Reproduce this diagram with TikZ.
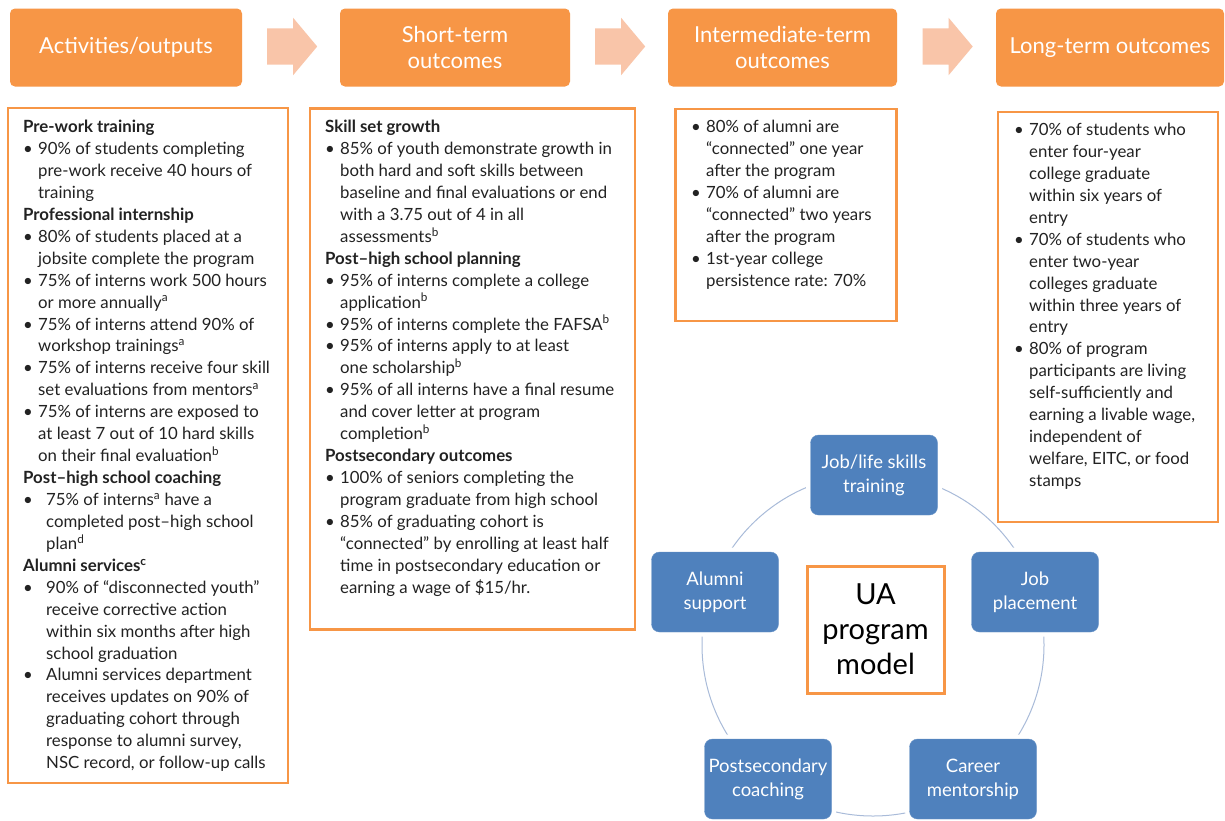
\documentclass[tikz,border=0pt]{standalone}
\usepackage{fontspec}
\setmainfont{Lato}
\usetikzlibrary{shapes.arrows}
\definecolor{hdor}{HTML}{F79646}
\definecolor{arrpeach}{HTML}{F9C5A9}
\definecolor{cycblue}{HTML}{4F81BD}
\definecolor{arcgray}{HTML}{A9BBD9}
\definecolor{txt}{HTML}{222222}
\newcommand{\HdL}[1]{\textbf{#1}}
\newcommand{\BuL}[2][15pt]{\makebox[#1][l]{•}#2}
\newcommand{\CoL}[2][15pt]{\hspace*{#1}#2}
\newcommand{\Sup}[1]{\textsuperscript{#1}}
\tikzset{
  hdbox/.style={rectangle, rounded corners=5pt, fill=hdor, text=white, inner sep=0pt,
    minimum height=78pt, align=center, font=\fontsize{22}{26}\selectfont},
  flowarrow/.style={single arrow, fill=arrpeach, draw=none, inner xsep=0pt, inner ysep=18pt,
    minimum height=50pt, single arrow head extend=10.5pt,
    single arrow tip angle=100, shape border rotate=0, anchor=tail},
  txtbox/.style={rectangle, draw=hdor, line width=2.6pt, fill=white, inner sep=0pt},
  bodytxt/.style={anchor=north west, inner sep=0pt, align=left, text=txt,
    font=\fontsize{16.8}{21.93}\selectfont},
  cyc/.style={rectangle, rounded corners=8pt, fill=cycblue, draw=cycblue!85!white,
    preaction={draw=white, line width=9pt}, text=white, align=center, inner sep=0pt,
    minimum width=127pt, minimum height=80pt, font=\fontsize{18.5}{24}\selectfont},
}
\begin{document}
\begin{tikzpicture}[x=1pt,y=-1pt]
\useasboundingbox[fill=white] (0,0) rectangle (1225,820);

% header row
\node[hdbox, minimum width=232pt] (h1) at (126,47.5) {Activities/outputs};
\node[hdbox, minimum width=230pt] (h2) at (455,47.5) {Short-term\\outcomes};
\node[hdbox, minimum width=229pt] (h3) at (782.5,47.5) {Intermediate-term\\outcomes};
\node[hdbox, minimum width=228pt] (h4) at (1110,47.5) {Long-term outcomes};
\node[flowarrow] (a1) at (267,46.5) {};
\node[flowarrow] (a2) at (595,46.5) {};
\node[flowarrow] (a3) at (922.5,46.5) {};

% text boxes
\node[txtbox, minimum width=280pt, minimum height=675pt] (b1) at (148,445.5) {};
\node[txtbox, minimum width=325pt, minimum height=521pt] (b2) at (472.5,369) {};
\node[txtbox, minimum width=221pt, minimum height=212pt] (b3) at (786,215) {};
\node[txtbox, minimum width=220pt, minimum height=410pt] (b4) at (1108,317) {};

\node[bodytxt] (t1) at (23,120) {%
\HdL{Pre-work training}\\
\BuL{90\% of students completing}\\
\CoL{pre-work receive 40 hours of}\\
\CoL{training}\\
\HdL{Professional internship}\\
\BuL{80\% of students placed at a}\\
\CoL{jobsite complete the program}\\
\BuL{75\% of interns work 500 hours}\\
\CoL{or more annually\Sup{a}}\\
\BuL{75\% of interns attend 90\% of}\\
\CoL{workshop trainings\Sup{a}}\\
\BuL{75\% of interns receive four skill}\\
\CoL{set evaluations from mentors\Sup{a}}\\
\BuL{75\% of interns are exposed to}\\
\CoL{at least 7 out of 10 hard skills}\\
\CoL{on their final evaluation\Sup{b}}\\
\HdL{Post–high school coaching}\\
\BuL[23pt]{75\% of interns\Sup{a} have a}\\
\CoL[23pt]{completed post–high school}\\
\CoL[23pt]{plan\Sup{d}}\\
\HdL{Alumni services\Sup{c}}\\
\BuL[23pt]{90\% of “disconnected youth”}\\
\CoL[23pt]{receive corrective action}\\
\CoL[23pt]{within six months after high}\\
\CoL[23pt]{school graduation}\\
\BuL[23pt]{Alumni services department}\\
\CoL[23pt]{receives updates on 90\% of}\\
\CoL[23pt]{graduating cohort through}\\
\CoL[23pt]{response to alumni survey,}\\
\CoL[23pt]{NSC record, or follow-up calls}};

\node[bodytxt] (t2) at (325,120) {%
\HdL{Skill set growth}\\
\BuL{85\% of youth demonstrate growth in}\\
\CoL{both hard and soft skills between}\\
\CoL{baseline and final evaluations or end}\\
\CoL{with a 3.75 out of 4 in all}\\
\CoL{assessments\Sup{b}}\\
\HdL{Post–high school planning}\\
\BuL{95\% of interns complete a college}\\
\CoL{application\Sup{b}}\\
\BuL{95\% of interns complete the FAFSA\Sup{b}}\\
\BuL{95\% of interns apply to at least}\\
\CoL{one scholarship\Sup{b}}\\
\BuL{95\% of all interns have a final resume}\\
\CoL{and cover letter at program}\\
\CoL{completion\Sup{b}}\\
\HdL{Postsecondary outcomes}\\
\BuL{100\% of seniors completing the}\\
\CoL{program graduate from high school}\\
\BuL{85\% of graduating cohort is}\\
\CoL{“connected” by enrolling at least half}\\
\CoL{time in postsecondary education or}\\
\CoL{earning a wage of \$15/hr.}};

\node[bodytxt] (t3) at (691,120) {%
\BuL{80\% of alumni are}\\
\CoL{“connected” one year}\\
\CoL{after the program}\\
\BuL{70\% of alumni are}\\
\CoL{“connected” two years}\\
\CoL{after the program}\\
\BuL{1st-year college}\\
\CoL{persistence rate: 70\%}};

\node[bodytxt] (t4) at (1014,123) {%
\BuL{70\% of students who}\\
\CoL{enter four-year}\\
\CoL{college graduate}\\
\CoL{within six years of}\\
\CoL{entry}\\
\BuL{70\% of students who}\\
\CoL{enter two-year}\\
\CoL{colleges graduate}\\
\CoL{within three years of}\\
\CoL{entry}\\
\BuL{80\% of program}\\
\CoL{participants are living}\\
\CoL{self-sufficiently and}\\
\CoL{earning a livable wage,}\\
\CoL{independent of}\\
\CoL{welfare, EITC, or food}\\
\CoL{stamps}};

% cycle
\node[circle, draw=arcgray, line width=1pt, minimum size=342pt, inner sep=0pt] (ring) at (873,645) {};
\node[cyc] (c1) at (874,475) {Job/life skills\\training};
\node[cyc] (c2) at (1035,592) {Job\\placement};
\node[cyc] (c3) at (973,779) {Career\\mentorship};
\node[cyc] (c4) at (768,779) {Postsecondary\\coaching};
\node[cyc] (c5) at (715,592) {Alumni\\support};
\node[rectangle, draw=hdor, line width=3pt, fill=white, minimum width=137pt, minimum height=127pt,
  inner sep=0pt, align=center, text=black, font=\fontsize{29}{35}\selectfont] (ua) at (875.5,629.5)
  {UA\\program\\model};
\end{tikzpicture}
\end{document}
